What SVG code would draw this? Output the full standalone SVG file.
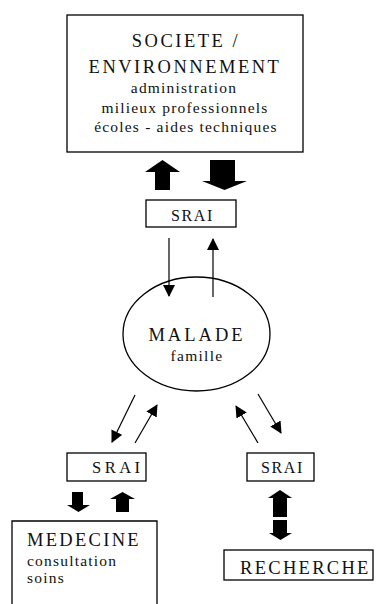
<svg xmlns="http://www.w3.org/2000/svg" width="378" height="604" viewBox="0 0 378 604">
<defs>
<style>
.box{fill:#fff;stroke:#000;stroke-width:1.3}
.t{font-family:"Liberation Serif","Times New Roman",serif;fill:#111}
.big{font-size:18.5px;letter-spacing:2.5px}
.sm{font-size:15.5px;letter-spacing:1.2px}
.srai{font-size:16px;letter-spacing:1.6px}
.ln{stroke:#000;stroke-width:1.2;fill:none;marker-end:url(#ah)}
.blk{fill:#000}
</style>
<marker id="ah" viewBox="0 0 12 12" refX="11" refY="6" markerWidth="12" markerHeight="12" markerUnits="userSpaceOnUse" orient="auto">
<path d="M0,0 L12,6 L0,12 Z" fill="#000"/>
</marker>
</defs>
<rect width="378" height="604" fill="#fff"/>
<g id="societe">
<rect class="box" x="67" y="15" width="236" height="137"/>
<text class="t big" x="186" y="47" text-anchor="middle">SOCIETE /</text>
<text class="t big" x="185" y="73" text-anchor="middle">ENVIRONNEMENT</text>
<text class="t sm" x="184" y="93" text-anchor="middle">administration</text>
<text class="t sm" x="185" y="113" text-anchor="middle">milieux professionnels</text>
<text class="t sm" x="186" y="132" text-anchor="middle">écoles - aides techniques</text>
</g>
<g id="srai-top">
<rect class="box" x="146" y="200" width="90" height="27"/>
<text class="t srai" x="192.5" y="221" text-anchor="middle">SRAI</text>
</g>
<g id="malade">
<ellipse class="box" cx="196.5" cy="334" rx="73.5" ry="57"/>
<text class="t big" x="197" y="341" text-anchor="middle" style="letter-spacing:3px">MALADE</text>
<text class="t sm" x="197" y="361" text-anchor="middle" style="letter-spacing:1.3px">famille</text>
</g>
<g id="srai-left">
<rect class="box" x="67" y="453" width="79" height="28"/>
<text class="t srai" x="92" y="473" style="font-size:16.5px;letter-spacing:3.5px">SRAI</text>
</g>
<g id="srai-right">
<rect class="box" x="247" y="453" width="67" height="28"/>
<text class="t srai" x="261" y="473">SRAI</text>
</g>
<g id="medecine">
<path class="box" d="M12,612 V521 H157 V612"/>
<text class="t big" x="27" y="546" style="letter-spacing:2.3px">MEDECINE</text>
<text class="t sm" x="27" y="566">consultation</text>
<text class="t sm" x="27" y="583">soins</text>
</g>
<g id="recherche">
<rect class="box" x="224" y="550" width="149" height="30"/>
<text class="t big" x="240" y="574" style="letter-spacing:2.3px">RECHERCHE</text>
</g>
<g id="connectors">
<line class="ln" x1="169" y1="238" x2="169" y2="296"/>
<line class="ln" x1="213" y1="297" x2="213" y2="239"/>
<line class="ln" x1="135" y1="395" x2="112" y2="442"/>
<line class="ln" x1="135" y1="443" x2="157" y2="405"/>
<line class="ln" x1="258" y1="443" x2="236" y2="406"/>
<line class="ln" x1="258" y1="394" x2="281" y2="433"/>
<polygon class="blk" points="162.5,160 180,172 170,172 170,190 155,190 155,172 145,172"/>
<polygon class="blk" points="210,160 235,160 235,181 247,181 224.5,190 202,181 210,181"/>
<polygon class="blk" points="72,492 83,492 83,505 90,505 78.5,512 67,505 72,505"/>
<polygon class="blk" points="122.5,492 135,499 129,499 129,512 116,512 116,499 110,499"/>
<polygon class="blk" points="280,490 292,498 287,498 287,517 273,517 273,498 268,498"/>
<polygon class="blk" points="273,520 287,520 287,533 292,533 280.5,540 269,533 273,533"/>
</g>
</svg>
